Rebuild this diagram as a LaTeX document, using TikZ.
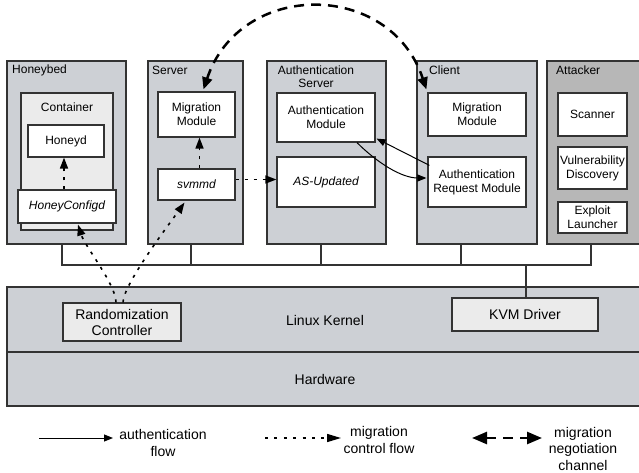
\documentclass[tikz,border=0pt]{standalone}
\usepackage{fontspec}
\setmainfont{Liberation Sans}
\usetikzlibrary{arrows.meta,calc}

\definecolor{vmgray}{HTML}{CDD0D5}
\definecolor{lightfill}{HTML}{EBEBEB}
\definecolor{attfill}{HTML}{B7B7B7}
\definecolor{edge}{HTML}{333333}

\begin{document}
\begin{tikzpicture}[x=1pt,y=-1pt,
  frame/.style={draw=edge, line width=1.2pt, fill=vmgray},
  module/.style={draw=edge, line width=1.2pt, fill=white, align=center,
    font=\fontsize{12}{14}\selectfont, inner sep=0pt},
  hostbox/.style={draw=edge, line width=1.2pt, fill=lightfill, align=center,
    font=\fontsize{14}{16}\selectfont, inner sep=0pt},
  title/.style={font=\fontsize{12}{13.5}\selectfont, inner sep=0pt, align=center},
  biglabel/.style={font=\fontsize{14}{16.5}\selectfont, inner sep=0pt, align=center},
  bus/.style={draw=edge, line width=1.2pt},
  auth/.style={draw=black, line width=1pt, -{Triangle[length=9pt,width=7pt]}},
  ctrl/.style={draw=black, line width=1.6pt, dash pattern=on 3pt off 6pt,
    -{Triangle[length=11pt,width=8pt]}},
  negot/.style={draw=black, line width=2.5pt, dash pattern=on 10pt off 7pt,
    {Triangle[length=12pt,width=10pt]}-{Triangle[length=12pt,width=10pt]}}]

\clip (0,0) rectangle (639,473);
\fill[white] (0,0) rectangle (639,473);

% ---- virtual machines ----
\node[frame, minimum width=119, minimum height=183] (hb)  at (66.5,152.5) {};
\node[frame, minimum width=95,  minimum height=183] (srv) at (195.5,152.5) {};
\node[frame, minimum width=119, minimum height=183] (as)  at (326.5,152.5) {};
\node[frame, minimum width=120, minimum height=183] (cl)  at (477,152.5) {};
\node[frame, fill=attfill, minimum width=98, minimum height=183] (att) at (596,152.5) {};

\node[title, anchor=west] at (12,70) {Honeybed};
\node[title, anchor=west] at (152,70) {Server};
\node[title] at (316,76.5) {Authentication\\Server};
\node[title, anchor=west] at (429,70) {Client};
\node[title, anchor=west] at (556,70) {Attacker};

% honeybed container
\node[draw=edge, line width=1.2pt, fill=lightfill, minimum width=92, minimum height=137] (cont) at (67,161.5) {};
\node[title] at (67,107) {Container};
\node[module, minimum width=76, minimum height=32] (honeyd) at (66,141) {Honeyd};
\node[module, minimum width=98, minimum height=33] (hcfg) at (67,206.5) {\itshape HoneyConfigd};

% server
\node[module, minimum width=77, minimum height=45] (smig) at (196.5,114.5) {Migration\\Module};
\node[module, minimum width=77, minimum height=31] (svmmd) at (196.5,184.5) {\itshape svmmd};

% authentication server
\node[module, minimum width=98, minimum height=49] (am) at (326,117.5) {Authentication\\Module};
\node[module, minimum width=98, minimum height=50] (asup) at (326,182) {\itshape AS-Updated};

% client
\node[module, minimum width=98, minimum height=43] (cmig) at (477,114.5) {Migration\\Module};
\node[module, minimum width=98, minimum height=50] (arm) at (477,182) {Authentication\\Request Module};

% attacker
\node[module, minimum width=69, minimum height=43] (scan) at (592.5,114.5) {Scanner};
\node[module, minimum width=69, minimum height=42] (vuln) at (592.5,168) {Vulnerability\\Discovery};
\node[module, minimum width=69, minimum height=31] (expl) at (592.5,217.5) {Exploit\\Launcher};

% ---- host layers ----
\node[frame, minimum width=638, minimum height=65] (kern) at (326,319.5) {};
\node[frame, minimum width=638, minimum height=54] (hw) at (326,379) {};
\node[biglabel] at (325,320) {Linux Kernel};
\node[biglabel] at (325,379) {Hardware};
\node[hostbox, minimum width=118, minimum height=38] (rc) at (122,322) {Randomization\\Controller};
\node[hostbox, minimum width=146, minimum height=33] (kvm) at (525,314.5) {KVM Driver};

% ---- bus ----
\coordinate (b1) at (62,265);
\coordinate (b2) at (191,265);
\coordinate (b3) at (321,265);
\coordinate (b4) at (461,265);
\coordinate (b5) at (591,265);
\coordinate (bk) at (526,265);
\draw[bus] (hb.south -| b1) -- (b1) -- (b5) -- (att.south -| b5);
\draw[bus] (srv.south -| b2) -- (b2);
\draw[bus] (as.south -| b3) -- (b3);
\draw[bus] (cl.south -| b4) -- (b4);
\draw[bus] (bk) -- (kvm.north -| bk);

% ---- migration control flow ----
\draw[ctrl] ([xshift=-3pt]hcfg.north) -- ([xshift=-2pt]honeyd.south);
\draw[ctrl] ([xshift=3pt]svmmd.north) -- ([xshift=3pt]smig.south);
\draw[ctrl] ($(svmmd.east)+(0,-5)$) coordinate (sve) -- (sve -| asup.west);
\draw[ctrl] ($(rc.north)+(-6,0)$) .. controls +(0,-18) and +(7,22) .. ($(hcfg.south)+(11,1)$);
\draw[ctrl] ($(rc.north)+(1,0)$) .. controls +(0,-18) and +(-12,17) .. ($(svmmd.south)+(-12,2)$);

% ---- authentication flow ----
\draw[auth] ($(arm.north west)+(2,9)$) -- ($(am.south east)+(1,-4)$);
\draw[auth] ($(am.south)+(31,0)$) .. controls +(20,20) and +(-25,0) .. ($(arm.west)+(-1,-4)$);

% ---- migration negotiation channel ----
\draw[negot] ($(smig.north)+(7,-2)$) .. controls (240,-20) and (390,-20) .. ($(cmig.north west)+(-1,-3)$);

% ---- legend ----
\coordinate (l1a) at (39,438);  \coordinate (l1b) at (113,438);
\coordinate (l2a) at (265,438); \coordinate (l2b) at (341,438);
\coordinate (l3a) at (472,438); \coordinate (l3b) at (542,438);
\draw[auth] (l1a) -- (l1b);
\draw[ctrl, line width=1.5pt, dash pattern=on 3pt off 6.4pt, -{Triangle[length=14pt,width=8pt]}] (l2a) -- (l2b);
\draw[negot, {Triangle[length=15pt,width=12pt]}-{Triangle[length=15pt,width=12pt]}] (l3a) -- (l3b);
\node[biglabel] at (163,443) {authentication\\flow};
\node[biglabel] at (379,440) {migration\\control flow};
\node[biglabel] at (583,448.5) {migration\\negotiation\\channel};
\end{tikzpicture}
\end{document}
